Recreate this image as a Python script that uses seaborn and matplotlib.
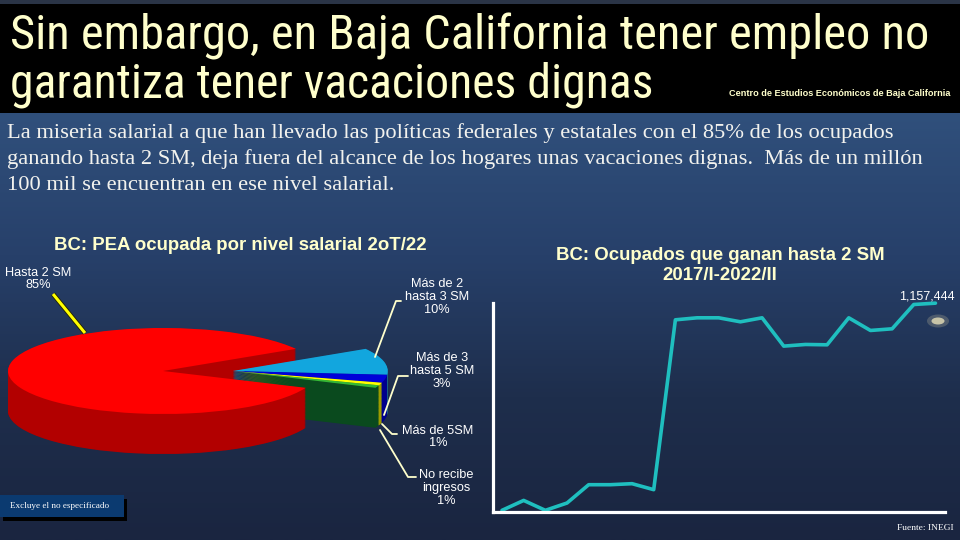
import numpy as np
import pandas as pd
import matplotlib
matplotlib.use("Agg")
import matplotlib.pyplot as plt
import seaborn as sns
from matplotlib.colors import LinearSegmentedColormap
from matplotlib.patches import Rectangle, Ellipse
from matplotlib import font_manager

# ---------------- data ----------------
pie_labels = ["Más de 2\nhasta 3 SM", "Más de 3\nhasta 5 SM", "Más de 5SM",
              "No recibe\ningresos", "Hasta 2 SM"]
pie_values = [10, 3, 1, 1, 85]
pie_top_colors = ["#12a6de", "#0000d8", "#ffff00", "#35b835", "#ff0000"]
pie_side_colors = ["#1b6788", "#00008c", "#9c9c00", "#0a4a1e", "#b20000"]

quarters = ["2017/I", "2017/II", "2017/III", "2017/IV", "2018/I", "2018/II",
            "2018/III", "2018/IV", "2019/I", "2019/II", "2019/III", "2019/IV",
            "2020/I", "2020/III", "2020/IV", "2021/I", "2021/II", "2021/III",
            "2021/IV", "2022/I", "2022/II"]
ocupados = [406000, 442000, 406000, 432600, 499000, 499000, 502700, 481000,
            1097000, 1104300, 1104300, 1089800, 1104300, 1001600, 1007600,
            1006400, 1104300, 1058400, 1064400, 1152600, 1157444]

title_lines = ["Sin embargo, en Baja California tener empleo no",
               "garantiza tener vacaciones dignas"]
subtitle_lines = [
    "La miseria salarial a que han llevado las políticas federales y estatales con el 85% de los ocupados",
    "ganando hasta 2 SM, deja fuera del alcance de los hogares unas vacaciones dignas.  Más de un millón",
    "100 mil se encuentran en ese nivel salarial."]

# ---------------- setup ----------------
sns.set_style("white")
W, H = 960, 540
fig = plt.figure(figsize=(9.6, 5.4), dpi=100)

# look for a condensed sans font for the headline
title_family = "Liberation Sans"
title_stretch = "normal"
ttf = font_manager.fontManager.ttflist
names = {f.name for f in ttf}
for cand in ["Liberation Sans Narrow", "Arial Narrow", "Roboto Condensed",
             "Open Sans Condensed", "Noto Sans Condensed"]:
    if cand in names:
        title_family = cand
        break
else:
    for f in ttf:
        if f.name in ("Roboto", "Noto Sans", "Open Sans") and str(f.stretch) in (
                "condensed", "semi-condensed", "extra-condensed", "75", "87.5"):
            title_family = f.name
            title_stretch = f.stretch
            break

SANS = ["Liberation Sans", "DejaVu Sans"]
SERIF = ["Liberation Serif", "DejaVu Serif"]


def frect(x0, y0, x1, y1):
    return [x0 / W, 1 - y1 / H, (x1 - x0) / W, (y1 - y0) / H]


# background
ax_bg = fig.add_axes([0, 0, 1, 1], zorder=-5)
cmap = LinearSegmentedColormap.from_list("bg", ["#30507c", "#27406a", "#1e2e4c", "#1a2540"])
grad = np.linspace(0, 1, 256).reshape(-1, 1)
ax_bg.imshow(grad, cmap=cmap, aspect="auto", extent=[0, W, H, 112])
ax_bg.add_patch(Rectangle((0, 0), W, 113, color="#000000", lw=0))
ax_bg.add_patch(Rectangle((0, 0), W, 4, color="#2a3446", lw=0))
ax_bg.set_xlim(0, W)
ax_bg.set_ylim(H, 0)
ax_bg.axis("off")

# ---------------- pie (pseudo 3D) ----------------
ax_pie = fig.add_axes(frect(0, 290, 420, 480), zorder=1)
rx, ry, cxp, cyp = 155.0, 43.0, 163.0, 371.0
depth = 40.0 / ry
shift = 0.45
start = 31
red_only = lambda cols: ["none"] * 4 + [cols[4]]
small_only = lambda cols: cols[:4] + ["none"]
for d in np.linspace(depth, 0.01, 70):
    ax_pie.pie(pie_values, colors=red_only(pie_side_colors), startangle=start,
               counterclock=False, center=(0, -d), radius=1,
               wedgeprops=dict(linewidth=0))
    ax_pie.pie(pie_values, colors=small_only(pie_side_colors), startangle=start,
               counterclock=False, center=(shift, -d), radius=1,
               wedgeprops=dict(linewidth=0))
ax_pie.pie(pie_values, colors=red_only(pie_top_colors), startangle=start,
           counterclock=False, center=(0, 0), radius=1, wedgeprops=dict(linewidth=0))
ax_pie.pie(pie_values, colors=small_only(pie_top_colors), startangle=start,
           counterclock=False, center=(shift, 0), radius=1, wedgeprops=dict(linewidth=0))
ax_pie.set_aspect("auto")
ax_pie.set_xlim(-cxp / rx, (420 - cxp) / rx)
ax_pie.set_ylim(-(480 - cyp) / ry, (cyp - 290) / ry)
ax_pie.axis("off")

# ---------------- line chart ----------------
ax_line = fig.add_axes(frect(493, 303, 945, 512), zorder=1)
ax_line.patch.set_alpha(0)
df = pd.DataFrame({"pos": np.arange(len(quarters)), "quarter": quarters, "ocupados": ocupados})
sns.lineplot(data=df, x="pos", y="ocupados", ax=ax_line, color="#1fbfbf",
             linewidth=2.6, clip_on=False)
ax_line.set_xlim(-0.415, 20.44)
ax_line.set_ylim(400000, 1158000)
for s in ["top", "right"]:
    ax_line.spines[s].set_visible(False)
for s in ["left", "bottom"]:
    ax_line.spines[s].set_color("white")
    ax_line.spines[s].set_linewidth(2.3)
ax_line.set_xticks([])
ax_line.set_yticks([])
ax_line.set_xlabel("")
ax_line.set_ylabel("")
ax_line.annotate(f"{ocupados[-1]:,}", xy=(len(quarters) - 1, ocupados[-1]),
                 xytext=(-6.5, 4.5), textcoords="offset points", ha="center",
                 va="center", color="white", fontsize=9, family=SANS)

# ---------------- text overlay ----------------
ax_t = fig.add_axes([0, 0, 1, 1], zorder=10)
ax_t.set_xlim(0, W)
ax_t.set_ylim(H, 0)
ax_t.axis("off")
ax_t.patch.set_alpha(0)

cream = "#ffffcc"
t1 = ax_t.text(10, 50, title_lines[0], color=cream, fontsize=32,
               family=[title_family, "DejaVu Sans"], fontstretch=title_stretch, va="baseline")
t2 = ax_t.text(10, 97, title_lines[1], color=cream, fontsize=32,
               family=[title_family, "DejaVu Sans"], fontstretch=title_stretch, va="baseline")
ax_t.text(950, 96, "Centro de Estudios Económicos de Baja California", color=cream,
          fontsize=6.6, fontweight="bold", family=SANS, ha="right", va="baseline")

sub_texts = []
for i, line in enumerate(subtitle_lines):
    sub_texts.append(ax_t.text(7, 138 + 26 * i, line, color="#f2f2ee", fontsize=14,
                               family=SERIF, va="baseline"))

fig.canvas.draw()
rend = fig.canvas.get_renderer()


def fit(t, target):
    bb = t.get_window_extent(rend)
    t.set_fontsize(t.get_fontsize() * target / bb.width)


fit(t1, 920)
fit(t2, 645)
fit(sub_texts[0], 886)
fs = sub_texts[0].get_fontsize()
for t in sub_texts[1:]:
    t.set_fontsize(fs)

# chart titles
ax_t.text(240, 245, "BC: PEA ocupada por nivel salarial 2oT/22", color=cream,
          fontsize=13.4, fontweight="bold", family=SANS, ha="center", va="center")
ax_t.text(720, 255, "BC: Ocupados que ganan hasta 2 SM", color=cream,
          fontsize=13.4, fontweight="bold", family=SANS, ha="center", va="center")
ax_t.text(720, 276, "2017/I-2022/II", color=cream,
          fontsize=13.4, fontweight="bold", family=SANS, ha="center", va="center")

# pie labels and leaders
lab_pos = [(437, 297), (442, 371), (438, 437), (446, 488), (38, 279)]
pcts = [f"{v}%" for v in pie_values]
for (x, y), lab, p in zip(lab_pos, pie_labels, pcts):
    ax_t.text(x, y, f"{lab}\n{p}", color="white", fontsize=9.2, family=SANS,
              ha="center", va="center", linespacing=1.08)

leaders = [[(401, 301), (396, 301), (375, 357)],
           [(408, 376), (398, 376), (384, 415)],
           [(397, 434), (392, 434), (382, 424)],
           [(416, 477), (408, 477), (380, 430)]]
for pts in leaders:
    xs, ys = zip(*pts)
    ax_t.plot(xs, ys, color=cream, lw=1.3)
ax_t.plot([53, 85], [294, 333], color="#222200", lw=3.4, solid_capstyle="butt")
ax_t.plot([53, 85], [294, 333], color="#ffff00", lw=2.2, solid_capstyle="butt")

# glow blob
ax_t.add_patch(Ellipse((938, 321), 22, 13, color="#cfc6a0", alpha=0.25, lw=0))
ax_t.add_patch(Ellipse((938, 321), 13, 7, color="#e8dfb8", alpha=0.8, lw=0))

# note box
ax_t.add_patch(Rectangle((3, 499), 124, 22, color="#000000", lw=0))
ax_t.add_patch(Rectangle((0, 495), 124, 22, color="#0b3a70", lw=0))
ax_t.text(10, 506, "Excluye el no especificado", color="white", fontsize=6.6,
          family=SERIF, va="center")
ax_t.text(954, 528, "Fuente: INEGI", color="white", fontsize=6.8, family=SERIF,
          ha="right", va="center")

fig.savefig("out.png", dpi=100)
